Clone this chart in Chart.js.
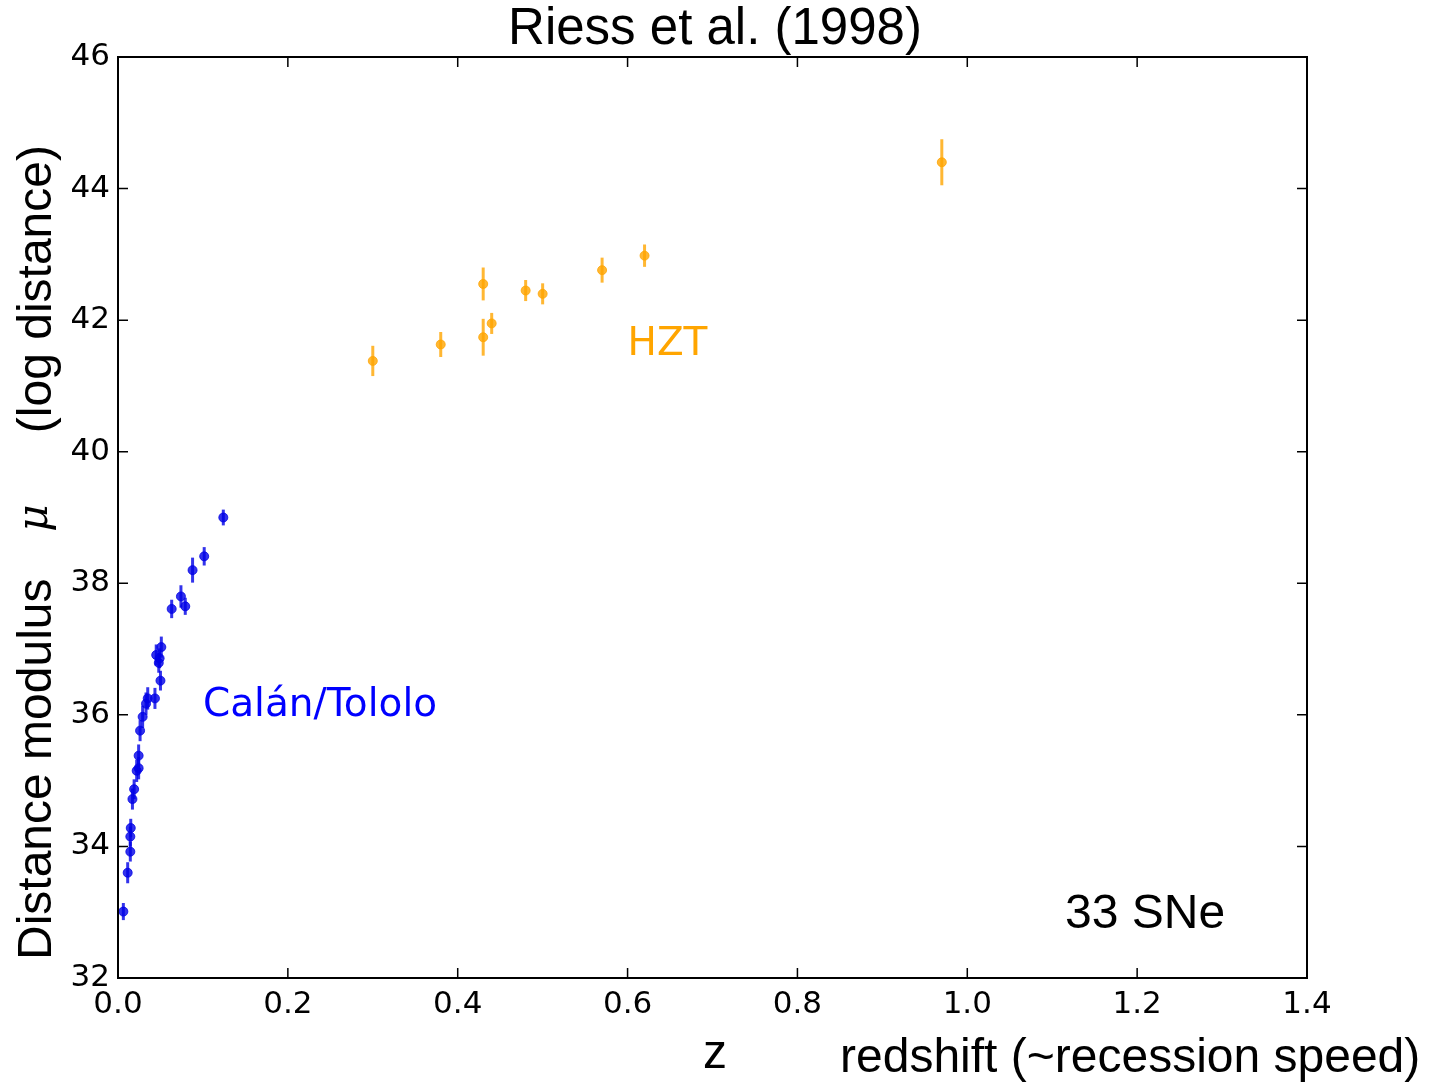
<!DOCTYPE html>
<html>
<head>
<meta charset="utf-8">
<script src="https://cdn.jsdelivr.net/npm/chart.js@4.4.0/dist/chart.umd.min.js"></script>
<style>
  html, body { margin: 0; padding: 0; background: #fff; }
  #wrap { width: 1431px; height: 1084px; position: relative; }
</style>
</head>
<body>
<div id="wrap"><canvas id="sneChart" width="1431" height="1084"></canvas></div>
<script>
// Calán/Tololo (nearby) supernovae
const ctZ = [0.124, 0.1015, 0.0878, 0.0741, 0.0792, 0.0632, 0.051, 0.045, 0.049, 0.048, 0.050, 0.035, 0.0435,
  0.033, 0.029, 0.026, 0.0243, 0.0243, 0.022, 0.019, 0.017, 0.015, 0.0145, 0.0145, 0.0114, 0.0063];
const ctMu = [39.00, 38.41, 38.20, 37.80, 37.65, 37.61, 37.03, 36.91, 36.86, 36.79, 36.52, 36.25, 36.25,
  36.17, 35.97, 35.76, 35.38, 35.19, 35.15, 34.87, 34.72, 34.28, 34.15, 33.92, 33.60, 33.01];
const ctErr = [0.12, 0.14, 0.19, 0.17, 0.13, 0.14, 0.16, 0.16, 0.15, 0.15, 0.15, 0.17, 0.16,
  0.17, 0.17, 0.16, 0.17, 0.17, 0.17, 0.15, 0.16, 0.14, 0.15, 0.15, 0.16, 0.13];

// High-Z Team supernovae
const hztZ = [0.30, 0.38, 0.43, 0.43, 0.44, 0.48, 0.50, 0.57, 0.62, 0.97];
const hztMu = [41.38, 41.63, 42.55, 41.74, 41.95, 42.45, 42.40, 42.76, 42.98, 44.40];
const hztErr = [0.23, 0.19, 0.25, 0.28, 0.16, 0.16, 0.16, 0.19, 0.17, 0.35];

const xTicks = [0.0, 0.2, 0.4, 0.6, 0.8, 1.0, 1.2, 1.4];
const yTicks = [32, 34, 36, 38, 40, 42, 44, 46];

const BLUE = 'rgba(0, 0, 230, 0.8)';
const ORANGE = 'rgba(255, 165, 0, 0.8)';
const sansFont = '"Liberation Sans", Arial, Helvetica, sans-serif';

function toPoints(xs, ys) {
  return xs.map((x, i) => ({ x: x, y: ys[i] }));
}

const errorBars = {
  id: 'errorBars',
  beforeDatasetsDraw(chart) {
    const ctx = chart.ctx;
    const xs = chart.scales.x, ys = chart.scales.y;
    chart.data.datasets.forEach(ds => {
      ctx.save();
      ctx.strokeStyle = ds.backgroundColor;
      ctx.lineWidth = 3;
      ds.data.forEach((p, i) => {
        const e = ds.yErr[i];
        const px = xs.getPixelForValue(p.x);
        ctx.beginPath();
        ctx.moveTo(px, ys.getPixelForValue(p.y - e));
        ctx.lineTo(px, ys.getPixelForValue(p.y + e));
        ctx.stroke();
      });
      ctx.restore();
    });
  }
};

const frameAndText = {
  id: 'frameAndText',
  afterDraw(chart) {
    const ctx = chart.ctx;
    const a = chart.chartArea;
    const xs = chart.scales.x, ys = chart.scales.y;
    ctx.save();
    // box
    ctx.strokeStyle = '#000';
    ctx.lineWidth = 2;
    ctx.strokeRect(a.left, a.top, a.right - a.left, a.bottom - a.top);
    // inward ticks on all sides
    ctx.lineWidth = 1.5;
    const tl = 10;
    xTicks.forEach(v => {
      const px = xs.getPixelForValue(v);
      ctx.beginPath();
      ctx.moveTo(px, a.bottom); ctx.lineTo(px, a.bottom - tl);
      ctx.moveTo(px, a.top); ctx.lineTo(px, a.top + tl);
      ctx.stroke();
    });
    yTicks.forEach(v => {
      const py = ys.getPixelForValue(v);
      ctx.beginPath();
      ctx.moveTo(a.left, py); ctx.lineTo(a.left + tl, py);
      ctx.moveTo(a.right, py); ctx.lineTo(a.right - tl, py);
      ctx.stroke();
    });

    ctx.fillStyle = '#000';
    // title
    ctx.font = '51px ' + sansFont;
    ctx.textAlign = 'center';
    ctx.textBaseline = 'alphabetic';
    ctx.fillText('Riess et al. (1998)', 715, 44);

    // x label
    ctx.font = '48px ' + sansFont;
    ctx.fillText('z', 715, 1068);
    ctx.textAlign = 'left';
    ctx.fillText('redshift (~recession speed)', 840, 1072);

    // y label (rotated)
    ctx.save();
    ctx.translate(51, 0);
    ctx.rotate(-Math.PI / 2);
    ctx.textAlign = 'left';
    ctx.fillText('Distance modulus', -960, 0);
    ctx.textAlign = 'right';
    ctx.fillText('(log distance)', -145, 0);
    ctx.font = 'italic 42px "DejaVu Serif", serif';
    ctx.textAlign = 'center';
    ctx.fillText('\u03bc', -518, -4);
    ctx.restore();

    // annotations
    ctx.textAlign = 'left';
    ctx.font = '39px "DejaVu Sans", sans-serif';
    ctx.fillStyle = 'orange';
    ctx.fillText('HZT', xs.getPixelForValue(0.6), ys.getPixelForValue(41.47));
    ctx.fillStyle = 'blue';
    ctx.fillText('Calán/Tololo', xs.getPixelForValue(0.1), ys.getPixelForValue(35.98));
    ctx.fillStyle = '#000';
    ctx.font = '48px ' + sansFont;
    ctx.fillText('33 SNe', 1065, 928);
    ctx.restore();
  }
};

new Chart(document.getElementById('sneChart').getContext('2d'), {
  type: 'scatter',
  data: {
    datasets: [
      {
        label: 'Calán/Tololo',
        data: toPoints(ctZ, ctMu),
        yErr: ctErr,
        backgroundColor: BLUE,
        borderColor: BLUE,
        borderWidth: 1,
        pointRadius: 4.5
      },
      {
        label: 'HZT',
        data: toPoints(hztZ, hztMu),
        yErr: hztErr,
        backgroundColor: ORANGE,
        borderColor: ORANGE,
        borderWidth: 1,
        pointRadius: 4.5
      }
    ]
  },
  options: {
    responsive: false,
    animation: false,
    layout: { padding: { top: 57, right: 124, left: 0, bottom: 0 } },
    plugins: {
      legend: { display: false },
      tooltip: { enabled: false }
    },
    scales: {
      x: {
        type: 'linear',
        min: 0,
        max: 1.4,
        afterFit(scale) { scale.height = 106; },
        afterBuildTicks(scale) { scale.ticks = xTicks.map(v => ({ value: v })); },
        grid: { display: false },
        border: { display: false },
        ticks: {
          color: '#000',
          padding: 0,
          font: { family: '"DejaVu Sans", sans-serif', size: 31 },
          callback: v => v.toFixed(1)
        }
      },
      y: {
        type: 'linear',
        min: 32,
        max: 46,
        afterFit(scale) { scale.width = 118; },
        afterBuildTicks(scale) { scale.ticks = yTicks.map(v => ({ value: v })); },
        grid: { display: false },
        border: { display: false },
        ticks: {
          color: '#000',
          padding: 0,
          font: { family: '"DejaVu Sans", sans-serif', size: 31 },
          callback: v => String(v)
        }
      }
    }
  },
  plugins: [errorBars, frameAndText]
});
</script>
</body>
</html>
